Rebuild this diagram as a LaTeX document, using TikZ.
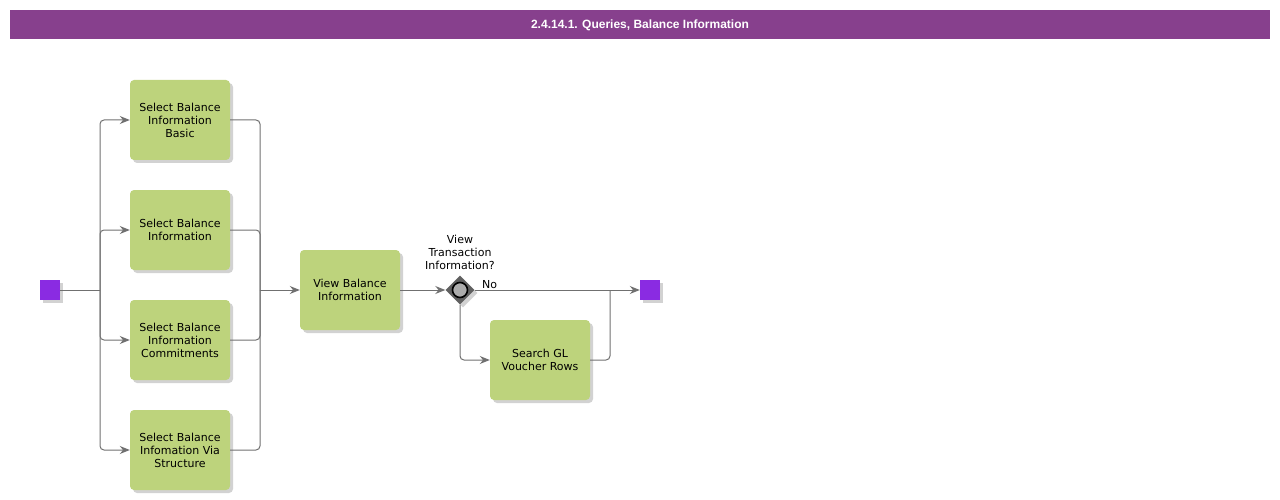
\documentclass[tikz,border=0pt]{standalone}
\usepackage{fontspec}
\setmainfont{DejaVu Sans}
\newfontfamily\headfont{Liberation Sans}
\usetikzlibrary{shapes.geometric,arrows.meta,shadows}
\definecolor{hdr}{HTML}{87408D}
\definecolor{evt}{HTML}{8A2BE2}
\definecolor{taskc}{HTML}{BDD37C}
\definecolor{linec}{HTML}{707070}
\begin{document}
\begin{tikzpicture}[x=1pt,y=-1pt,
  shd/.style={drop shadow={shadow xshift=3pt,shadow yshift=-3pt,fill=black!35,opacity=0.5}},
  taskbox/.style={shd,fill=taskc,rounded corners=4pt,minimum width=100pt,minimum height=80pt,align=center,font=\fontsize{11}{13}\selectfont,inner sep=2pt},
  evtbox/.style={shd,fill=evt,minimum size=20pt,inner sep=0pt},
  gw/.style={shd,diamond,fill=gray!75!black,minimum width=29pt,minimum height=29pt,inner sep=0pt},
  flow/.style={draw=linec,line width=1pt,rounded corners=4pt},
  arr/.style={-{Stealth[length=10pt,width=8pt]}},
  lbl/.style={font=\fontsize{11}{13}\selectfont,align=center}]
\useasboundingbox (0,0) rectangle (1280,500);
\node[fill=hdr,minimum width=1260pt,minimum height=29pt,inner sep=0pt] (hdr) at (640,24.5) {};
\node[text=white,font=\headfont\bfseries\fontsize{12}{14}\selectfont,inner sep=0pt] (hdrt) at (640,25.5) {2.4.14.1. Queries, Balance Information};
\node[evtbox] (start) at (50,290) {};
\node[evtbox] (end) at (650,290) {};
\node[taskbox] (t1) at (180,120) {Select Balance\\Information\\Basic};
\node[taskbox] (t2) at (180,230) {Select Balance\\Information};
\node[taskbox] (t3) at (180,340) {Select Balance\\Information\\Commitments};
\node[taskbox] (t4) at (180,450) {Select Balance\\Infomation Via\\Structure};
\node[taskbox] (view) at (350,290) {View Balance\\Information};
\node[taskbox] (search) at (540,360) {Search GL\\Voucher Rows};
\node[gw] (gw) at (460,290) {};
\draw[black,line width=1.6pt,fill=gray!65] (gw.center) circle (7.5pt);
\node[lbl] (gwl) at (460,252) {View\\Transaction\\Information?};
\coordinate (fork) at (100,290);
\coordinate (join) at (260,290);
\coordinate (join2) at (610,290);
\draw[flow] (start.east) -- (fork);
\foreach \t in {t1,t2,t3,t4}{
  \draw[flow,arr] (fork) |- (\t.west);
  \draw[flow] (\t.east) -| (join);
}
\draw[flow,arr] (join) -- (view.west);
\draw[flow,arr] (view.east) -- (gw.west);
\draw[flow,arr] (gw.east) -- node[lbl,above,pos=0.09,inner sep=1pt] (no) {No} (end.west);
\draw[flow,arr] (gw.south) |- (search.west);
\draw[flow] (search.east) -| (join2);
\end{tikzpicture}
\end{document}
